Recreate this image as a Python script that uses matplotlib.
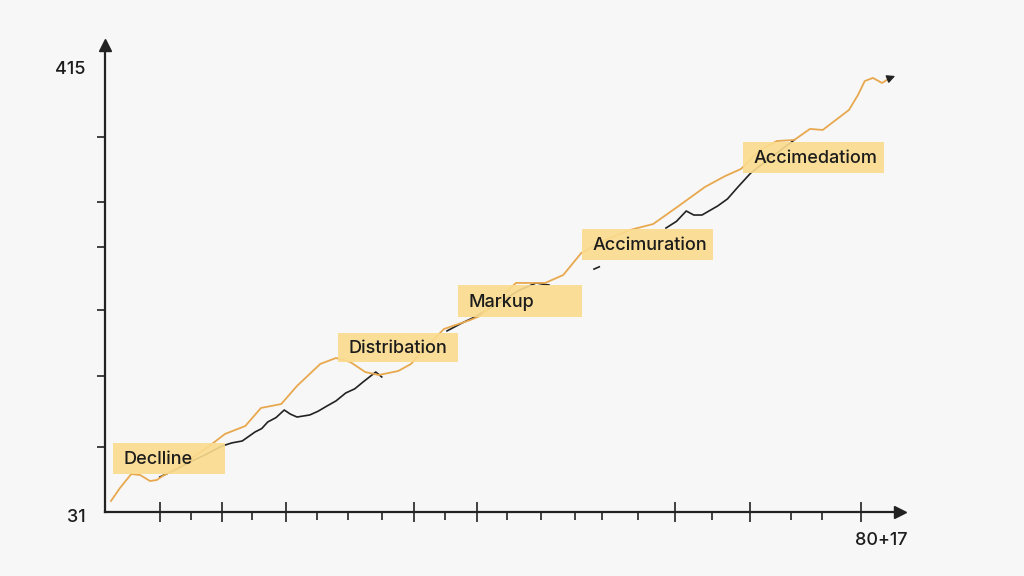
import matplotlib.pyplot as plt
from matplotlib.patches import Rectangle

plt.rcParams["font.family"] = ["Inter", "DejaVu Sans"]

nan = float("nan")

# orange price line
trend_x = [0.8, 2.0, 3.5, 4.7, 6.0, 6.9, 7.7, 10.0, 12.0, 13.9, 16.0, 18.7, 20.8, 23.5,
           25.6, 28.7, 30.8, 32.7, 34.7, 36.5, 39.1, 40.8, 42.7, 45.2, 48.7, 50.0, 52.4,
           54.8, 56.5, 58.7, 61.1, 63.5, 66.7, 70.0, 73.1, 76.5, 80.0, 82.7, 84.8, 87.3,
           89.6, 91.9, 94.0, 95.7, 99.2, 100.4, 101.3, 102.4, 103.6, 104.7]
trend_y = [40.6, 51.9, 64.0, 63.1, 57.9, 58.8, 62.3, 71.0, 79.7, 88.3, 98.8, 105.7, 121.4,
           124.8, 140.5, 159.6, 164.8, 161.3, 152.6, 150.0, 153.5, 159.6, 173.5, 190.0,
           197.8, 201.3, 215.2, 230.0, 230.0, 230.0, 236.9, 256.0, 267.3, 276.0, 281.2,
           296.9, 313.4, 322.9, 329.0, 345.5, 353.3, 354.2, 363.8, 362.9, 380.3, 393.3,
           405.4, 408.1, 403.7, 408.1]
arrow_end = (105.7, 410.7)

# black price line (gaps where it is not drawn)
price_x = [7.3, 9.3, 11.3, 13.3, 15.6, 16.9, 18.3, 20.0, 20.9, 21.7, 22.8, 23.9, 24.7,
           25.6, 27.3, 28.4, 29.6, 30.8, 32.1, 33.3, 34.4, 36.1, 36.9, 37.5, 45.6,
           47.6, 49.6, 52.7, 55.3, 57.5, 58.3, 59.2, 60.0, 65.2, 65.9, 66.5, 74.8, 76.2,
           77.5, 78.5, 79.6, 81.7, 83.0, 84.4, 86.1, 88.7, 91.9]
price_y = [61.4, 67.5, 74.4, 80.5, 88.3, 91.0, 92.7, 100.5, 103.5, 109.2, 113.0, 119.6,
           116.1, 113.5, 115.3, 118.5, 123.1, 127.5, 134.4, 138.0, 143.9, 152.6, 148.3,
           nan, 188.3, 195.2, 201.3, 213.4, 223.9, 230.0, 229.0, 228.2, nan, 242.0, 244.0,
           nan, 277.7, 283.5, 292.5, 289.0, 289.0, 296.9, 303.0, 313.4, 325.5, 338.6, 354.2]

# phase labels: text, box left, box right, box bottom, box top
phases = ["Declline", "Distribation", "Markup", "Accimuration", "Accimedatiom"]
box_x0 = [1.1, 31.1, 47.1, 63.6, 85.1]
box_x1 = [16.0, 47.1, 63.6, 81.1, 103.9]
box_y0 = [64.0, 161.3, 200.4, 249.9, 325.5]
box_y1 = [91.0, 186.5, 228.2, 276.9, 352.5]

major_ticks = [7.3, 15.6, 24.1, 41.2, 49.6, 76.0, 86.0, 100.8]
minor_ticks = [11.5, 19.6, 28.3, 32.4, 36.9, 45.3, 53.6, 58.1, 62.7, 66.3, 71.1, 80.9,
               91.5, 95.6]
y_ticks = [87.5, 149.2, 206.5, 261.2, 300.3, 356.8]

bg = "#f7f7f7"
ink = "#1c1c1c"
fig = plt.figure(figsize=(10.24, 5.76), dpi=100, facecolor=bg)
ax = fig.add_axes([105 / 1024, 64 / 576, 795 / 1024, 467 / 576], facecolor=bg)
ax.set_xlim(0, 106)
ax.set_ylim(31, 436.7)

ax.plot(price_x, price_y, color="#222222", lw=1.2, zorder=2)
ax.plot(trend_x, trend_y, color="#e8a84e", lw=1.3, zorder=3)
ax.annotate("", xy=arrow_end, xytext=(trend_x[-1], trend_y[-1]),
            arrowprops=dict(arrowstyle="-|>", color="#222222", lw=1, mutation_scale=12),
            zorder=4)

for name, x0, x1, y0, y1 in zip(phases, box_x0, box_x1, box_y0, box_y1):
    ax.add_patch(Rectangle((x0, y0), x1 - x0, y1 - y0, facecolor="#fbdc8e",
                           alpha=0.9, edgecolor="none", zorder=5))
    ax.text(x0 + 1.4, (y0 + y1) / 2 - 1, name, ha="left", va="center",
            fontsize=13, fontweight="medium", color=ink, zorder=6)

for side in ["top", "right"]:
    ax.spines[side].set_visible(False)
for side in ["left", "bottom"]:
    ax.spines[side].set_linewidth(1.6)
    ax.spines[side].set_color("#222222")

ax.plot(0, 1, marker="^", color="#222222", ms=9, transform=ax.transAxes, clip_on=False)
ax.plot(1, 0, marker=">", color="#222222", ms=9, transform=ax.transAxes, clip_on=False)

ax.set_xticks(major_ticks)
ax.set_xticks(minor_ticks, minor=True)
ax.tick_params(axis="x", which="major", direction="inout", length=14, width=1.2,
               color="#222222", labelbottom=False)
ax.tick_params(axis="x", which="minor", direction="out", length=6, width=1.2,
               color="#222222")
ax.set_yticks(y_ticks)
ax.tick_params(axis="y", direction="out", length=6, width=1.2, color="#222222",
               labelleft=False)

ax.text(-2.6, 415, "415", ha="right", va="center", fontsize=13, fontweight="medium",
        color=ink, clip_on=False)
ax.text(-2.6, 26, "31", ha="right", va="center", fontsize=13, fontweight="medium",
        color=ink, clip_on=False)
ax.text(103.5, 6.5, "80+17", ha="center", va="center", fontsize=13, fontweight="medium",
        color=ink, clip_on=False)

fig.savefig("out.png", dpi=100, facecolor=bg)
